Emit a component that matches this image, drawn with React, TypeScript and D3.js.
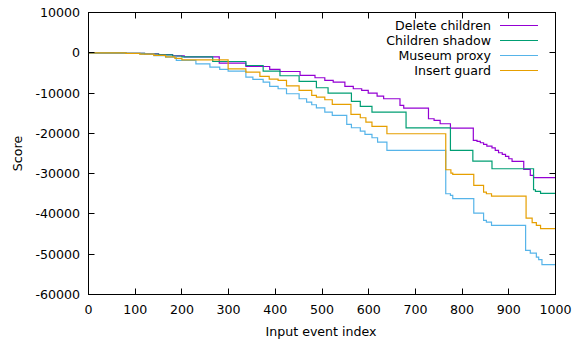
import { useRef, useEffect } from "react";
import * as d3 from "d3";

type Pt = [number, number];

const seriesNames = ["Delete children", "Children shadow", "Museum proxy", "Insert guard"];
const seriesColors = ["#9400d3", "#009e73", "#56b4e9", "#e69f00"];

const xTicks = [0, 100, 200, 300, 400, 500, 600, 700, 800, 900, 1000];
const yTicks = [10000, 0, -10000, -20000, -30000, -40000, -50000, -60000];

const deleteChildren: Pt[] = [
  [0, 0], [40, -30], [80, -120], [120, -280], [150, -480], [180, -750], [205, -1000],
  [280, -2580], [337, -3400], [388, -4140], [410, -4640], [453, -5630], [485, -6200],
  [506, -6870], [524, -7290], [549, -8360], [567, -8930], [585, -9350], [599, -10020],
  [618, -10770], [632, -11410], [667, -13070], [675, -13740], [728, -16380], [740, -16800],
  [753, -17620], [775, -18700], [824, -21760], [832, -22010], [839, -22330], [846, -22750],
  [853, -23170], [864, -23580], [871, -24240], [878, -24810], [886, -25230], [893, -25730],
  [900, -26300], [907, -26970], [932, -28950], [946, -30440], [953, -31010], [1000, -31010],
];

const childrenShadow: Pt[] = [
  [0, 0], [40, -30], [80, -120], [120, -300], [150, -500], [180, -800], [200, -1000],
  [266, -2160], [337, -3150], [374, -4570], [410, -5700], [451, -7120], [488, -8680],
  [513, -10020], [563, -12080], [582, -13320], [607, -14740], [680, -18620], [775, -24240],
  [823, -26900], [864, -28780], [953, -34000], [957, -34400], [968, -34900], [1000, -34900],
];

const museumProxy: Pt[] = [
  [0, 0], [40, -40], [80, -150], [110, -350], [140, -700], [165, -1100], [188, -1900],
  [230, -2730], [260, -3570], [281, -4140], [299, -4570], [337, -6050], [352, -6620],
  [374, -7290], [388, -8360], [406, -8930], [424, -10170], [451, -11410], [467, -12260],
  [478, -12900], [488, -13650], [506, -14740], [522, -15560], [553, -17790], [563, -18610],
  [582, -19450], [592, -20270], [607, -21090], [619, -22180], [639, -24240], [765, -34990],
  [775, -35400], [780, -36220], [825, -39790], [846, -41600], [852, -42020], [863, -42850],
  [936, -49050], [946, -49720], [959, -50710], [964, -51360], [971, -52600], [1000, -52600],
];

const insertGuard: Pt[] = [
  [0, 0], [40, -40], [80, -150], [110, -350], [140, -650], [165, -1000], [185, -1400],
  [200, -1740], [299, -3970], [337, -4810], [367, -5880], [387, -6550], [406, -6870],
  [424, -8190], [451, -9350], [478, -10590], [488, -11010], [506, -11660], [522, -12830],
  [562, -15310], [582, -16130], [594, -17220], [607, -18290], [639, -20100], [765, -29030],
  [776, -29870], [780, -30200], [825, -32920], [846, -34580], [852, -34990], [863, -35570],
  [937, -41030], [950, -42180], [959, -42850], [968, -43670], [1000, -43670],
];

const allSeries = [deleteChildren, childrenShadow, museumProxy, insertGuard];

const W = 587;
const H = 339;
const FONT = "'DejaVu Sans', sans-serif";

export default function App() {
  const svgRef = useRef<SVGSVGElement>(null);

  useEffect(() => {
    if (!svgRef.current) return;
    const svg = d3.select(svgRef.current);
    svg.selectAll("*").remove();

    const x = d3.scaleLinear().domain([0, 1000]).range([88.5, 555.5]);
    const y = d3.scaleLinear().domain([-60000, 10000]).range([294.5, 12.5]);
    const [x0, x1] = x.range();
    const [y0, y1] = y.range();
    const tick = 6;

    // lines first, frame on top
    const line = d3
      .line<Pt>()
      .x((d) => x(d[0]))
      .y((d) => y(d[1]))
      .curve(d3.curveStepAfter);

    allSeries.forEach((s, i) => {
      svg
        .append("path")
        .datum(s)
        .attr("fill", "none")
        .attr("stroke", seriesColors[i])
        .attr("stroke-width", 1.2)
        .attr("d", line);
    });

    const g = svg.append("g").attr("stroke", "#000").attr("stroke-width", 1);

    // ticks, mirrored on all sides
    xTicks.forEach((t) => {
      const px = Math.round(x(t) - 0.5) + 0.5;
      g.append("line").attr("x1", px).attr("x2", px).attr("y1", y0).attr("y2", y0 - tick);
      g.append("line").attr("x1", px).attr("x2", px).attr("y1", y1).attr("y2", y1 + tick);
    });
    yTicks.forEach((t) => {
      const py = Math.round(y(t) - 0.5) + 0.5;
      g.append("line").attr("x1", x0).attr("x2", x0 + tick).attr("y1", py).attr("y2", py);
      g.append("line").attr("x1", x1).attr("x2", x1 - tick).attr("y1", py).attr("y2", py);
    });

    g.append("rect")
      .attr("x", x0)
      .attr("y", y1)
      .attr("width", x1 - x0)
      .attr("height", y0 - y1)
      .attr("fill", "none");

    const labels = svg.append("g").attr("font-family", FONT).attr("font-size", 12.6).attr("fill", "#000");

    xTicks.forEach((t) => {
      labels.append("text").attr("x", x(t)).attr("y", 314).attr("text-anchor", "middle").text(t);
    });
    yTicks.forEach((t) => {
      labels
        .append("text")
        .attr("x", 80)
        .attr("y", y(t) + 4.5)
        .attr("text-anchor", "end")
        .text(t);
    });

    labels.append("text").attr("x", 321).attr("y", 336).attr("text-anchor", "middle").text("Input event index");
    labels
      .append("text")
      .attr("transform", `translate(22,${(y0 + y1) / 2}) rotate(-90)`)
      .attr("text-anchor", "middle")
      .text("Score");

    // legend
    seriesNames.forEach((name, i) => {
      const ly = 25.5 + i * 15;
      labels
        .append("text")
        .attr("x", 491)
        .attr("y", ly + 4.5)
        .attr("text-anchor", "end")
        .text(name);
      svg
        .append("line")
        .attr("x1", 500)
        .attr("x2", 538)
        .attr("y1", ly)
        .attr("y2", ly)
        .attr("stroke", seriesColors[i])
        .attr("stroke-width", 1.2);
    });
  }, []);

  return (
    <div style={{ position: "fixed", left: 0, top: 0, background: "#fff" }}>
      <svg ref={svgRef} width={W} height={H} style={{ display: "block" }} />
    </div>
  );
}
